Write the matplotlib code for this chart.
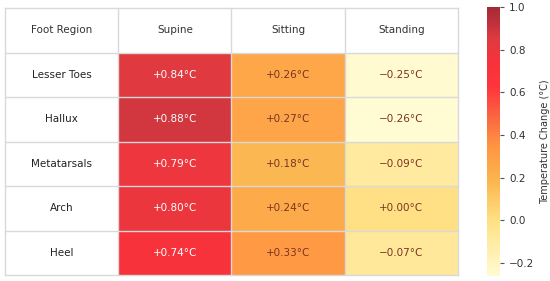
import matplotlib.pyplot as plt
import numpy as np
from matplotlib.colors import Normalize, LinearSegmentedColormap

# ===================== 数据 =====================
regions = ['Lesser Toes', 'Hallux', 'Metatarsals', 'Arch', 'Heel']
positions = ['Supine', 'Sitting', 'Standing']
supine = [0.84, 0.88, 0.79, 0.80, 0.74]
sitting = [0.26, 0.27, 0.18, 0.24, 0.33]
standing = [-0.25, -0.26, -0.09, 0.00, -0.07]

vals = np.array([supine, sitting, standing]).T
vmin, vmax = -0.26, 1.0

# 自定义黄-橙-红色带（按参考图取色）
cmap = LinearSegmentedColormap.from_list('heat', [
    (0.00, '#fffbd0'),
    (0.20, '#ffe07f'),
    (0.36, '#fbb044'),
    (0.48, '#ff9038'),
    (0.60, '#fa5a36'),
    (0.70, '#ff2a30'),
    (0.80, '#f7272f'),
    (0.88, '#de2f36'),
    (1.00, '#9e1e2a'),
])
norm = Normalize(vmin=vmin, vmax=vmax)

fig = plt.figure(figsize=(5.5, 2.81), dpi=100)
ax = fig.add_axes([5 / 550, 1 - 275 / 281, 453 / 550, 267 / 281])

n_rows = len(regions)
n_cols = len(positions)
col_edges = np.arange(n_cols + 2)
row_edges = np.arange(n_rows + 2)

# 数据单元格颜色
ax.pcolormesh(col_edges[1:], row_edges[1:], vals, cmap=cmap, norm=norm,
              alpha=0.95, edgecolor='none')

ax.set_xlim(0, n_cols + 1)
ax.set_ylim(n_rows + 1, 0)
ax.axis('off')

# 网格线
for x in col_edges:
    ax.plot([x, x], [0, n_rows + 1], color='#d9d9d9', lw=1, zorder=3, clip_on=False)
for y in row_edges:
    ax.plot([0, n_cols + 1], [y, y], color='#d9d9d9', lw=1, zorder=3, clip_on=False)

fs = 7.5
ax.text(0.5, 0.5, 'Foot Region', ha='center', va='center', fontsize=fs, color='#333333')
for j, p in enumerate(positions):
    ax.text(j + 1.5, 0.5, p, ha='center', va='center', fontsize=fs, color='#333333')
for i, r in enumerate(regions):
    ax.text(0.5, i + 1.5, r, ha='center', va='center', fontsize=fs, color='#222222')
    for j in range(n_cols):
        v = vals[i, j]
        s = ('+' if v >= 0 else '\u2212') + f'{abs(v):.2f}°C'
        c = 'white' if v > 0.5 else '#7a3422'
        ax.text(j + 1.5, i + 1.5, s, ha='center', va='center', fontsize=fs, color=c)

# 颜色条
cax = fig.add_axes([487 / 550, 1 - 276 / 281, 13 / 550, 269 / 281])
sm = plt.cm.ScalarMappable(cmap=cmap, norm=norm)
cb = fig.colorbar(sm, cax=cax, alpha=0.95)
cb.outline.set_visible(False)
cb.set_ticks([-0.2, 0.0, 0.2, 0.4, 0.6, 0.8, 1.0])
cb.ax.tick_params(labelsize=fs, length=3, color='#555555', labelcolor='#333333')
cb.set_label('Temperature Change (°C)', fontsize=7, color='#333333')

fig.savefig('out.png', dpi=100)
